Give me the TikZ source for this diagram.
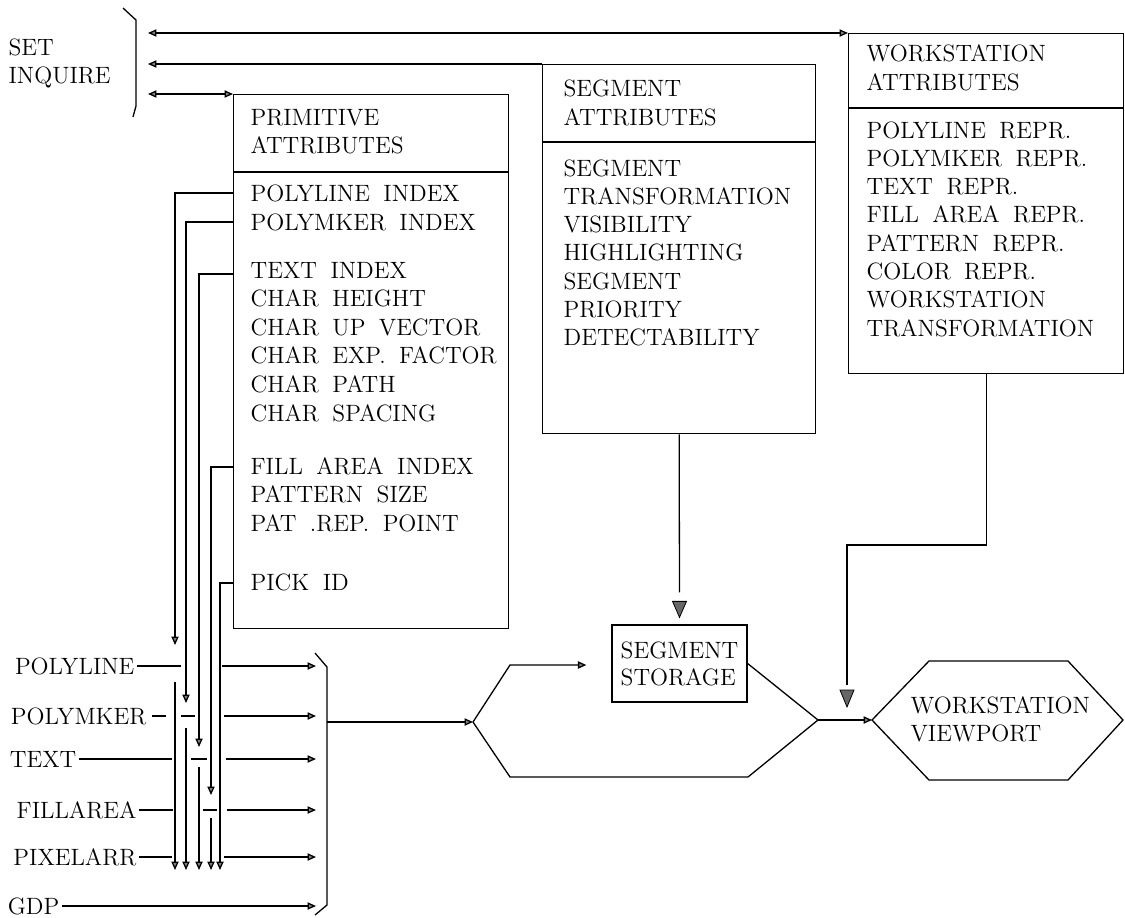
\documentclass[tikz,border=0pt]{standalone}
\usetikzlibrary{arrows.meta,calc}
\newcommand\diafont{\fontsize{11.8}{14.35}\selectfont\spaceskip=0.57em plus 0.1em\relax}
\begin{document}
\begin{tikzpicture}[x=0.5pt,y=-0.5pt,line width=0.65pt,
  >={Triangle[length=4.2pt,width=3.6pt,fill=black!50]},
  txt/.style={anchor=base west,inner sep=0pt,font=\diafont},
  lbl/.style={anchor=east,inner sep=1pt,font=\diafont},
  panel/.style={draw,anchor=north west,inner sep=0pt},
  gtri/.style={fill=black!60,draw=black,line width=0.4pt}]
\useasboundingbox (0,0) rectangle (1125,917);

% ---------- attribute panels ----------
\node[panel,minimum width=137.5pt,minimum height=267pt] (prim) at (233,94) {};
\node[panel,minimum width=136.5pt,minimum height=184.5pt] (seg) at (542,64) {};
\node[panel,minimum width=137.5pt,minimum height=170pt] (ws) at (848,33) {};
\draw ($(prim.north west)+(0,78)$) -- ($(prim.north east)+(0,78)$);
\draw ($(seg.north west)+(0,78)$) -- ($(seg.north east)+(0,78)$);
\draw ($(ws.north west)+(0,75)$) -- ($(ws.north east)+(0,75)$);

% primitive attributes
\node[txt] (ph1) at (250,125) {PRIMITIVE};
\node[txt] (ph2) at (250,153) {ATTRIBUTES};
\foreach \t [count=\i] in {POLYLINE INDEX,POLYMKER INDEX}
  \node[txt] (pa\i) at (250,{201+29*(\i-1)}) {\t};
\foreach \t [count=\i] in {TEXT INDEX,CHAR HEIGHT,CHAR UP VECTOR,CHAR EXP. FACTOR,CHAR PATH,CHAR SPACING}
  \node[txt] (pb\i) at (250,{278+28.6*(\i-1)}) {\t};
\foreach \t [count=\i] in {FILL AREA INDEX,PATTERN SIZE,PAT .REP. POINT}
  \node[txt] (pc\i) at (250,{474+28.6*(\i-1)}) {\t};
\node[txt] (pd1) at (250,590) {PICK ID};

% segment attributes
\node[txt] (sh1) at (563,96) {SEGMENT};
\node[txt] (sh2) at (563,125) {ATTRIBUTES};
\foreach \t [count=\i] in {SEGMENT,TRANSFORMATION,VISIBILITY,HIGHLIGHTING,SEGMENT,PRIORITY,DETECTABILITY}
  \node[txt] (sa\i) at (563,{176+28.3*(\i-1)}) {\t};

% workstation attributes
\node[txt] (wh1) at (866,61) {WORKSTATION};
\node[txt] (wh2) at (866,90) {ATTRIBUTES};
\foreach \t [count=\i] in {POLYLINE REPR.,POLYMKER REPR.,TEXT REPR.,FILL AREA REPR.,PATTERN REPR.,COLOR REPR.,WORKSTATION,TRANSFORMATION}
  \node[txt] (wa\i) at (866,{138+28.3*(\i-1)}) {\t};

% ---------- SET / INQUIRE ----------
\node[txt] (set) at (8,55) {SET};
\node[txt] (inq) at (8,83) {INQUIRE};
\draw (123,8) -- (136,20) -- (136,106) -- (133,117);
\coordinate (s1) at (148,33);
\coordinate (s2) at (148,64);
\coordinate (s3) at (148,94);
\draw[<->] (s1) -- (ws.north west);
\draw[->] (seg.north west) -- (s2);
\draw[<->] (s3) -- (prim.north west);

% ---------- attribute taps ----------
\coordinate (g1) at (175,645);
\coordinate (g2) at (186,703);
\coordinate (g3) at (199,747);
\coordinate (g4) at (211,795);
\coordinate (b5) at (220,870);
\draw[->] ($(prim.north west)+(0,99)$) -| (g1);
\draw[->] ($(prim.north west)+(0,128)$) -| (g2);
\draw[->] ($(prim.north west)+(0,180)$) -| (g3);
\draw[->] ($(prim.north west)+(0,373)$) -| (g4);
\draw[->] ($(prim.north west)+(0,489)$) -| (b5);

% continuations below the gates
\coordinate (c1) at (175,682); \coordinate (b1) at (175,870);
\coordinate (c2) at (186,728); \coordinate (b2) at (186,870);
\coordinate (c3) at (199,767); \coordinate (b3) at (199,870);
\coordinate (c4) at (211,818); \coordinate (b4) at (211,870);
\draw[->] (c1) -- (b1);
\draw[->] (c2) -- (b2);
\draw[->] (c3) -- (b3);
\draw[->] (c4) -- (b4);

% ---------- output primitives ----------
\node[lbl] (lpl) at (137,666) {POLYLINE};
\node[lbl] (lpm) at (149,716) {POLYMKER};
\node[lbl] (ltx) at (79,759) {TEXT};
\node[lbl] (lfa) at (139,810) {FILLAREA};
\node[lbl] (lpx) at (139,857) {PIXELARR};
\node[lbl] (lgd) at (62,906) {GDP};

\coordinate (h1a) at (181,666); \coordinate (h1b) at (222,666); \coordinate (e1) at (316,666);
\coordinate (h2a) at (166,716); \coordinate (h2g) at (181,716); \coordinate (h2h) at (195,716);
\coordinate (h2b) at (224,716); \coordinate (e2) at (316,716);
\coordinate (h3a) at (172,759); \coordinate (h3g) at (191,759); \coordinate (h3h) at (207,759);
\coordinate (h3b) at (226,759); \coordinate (e3) at (316,759);
\coordinate (h4a) at (173,810); \coordinate (h4g) at (203,810); \coordinate (h4h) at (217,810);
\coordinate (h4b) at (227,810); \coordinate (e4) at (316,810);
\coordinate (h5a) at (172,857); \coordinate (h5b) at (224,857); \coordinate (e5) at (316,857);
\coordinate (e6) at (316,906);

\draw (lpl.east) -- (h1a);
\draw[->] (h1b) -- (e1);
\draw ($(lpm.east)+(3,0)$) -- (h2a);
\draw (h2g) -- (h2h);
\draw[->] (h2b) -- (e2);
\draw (ltx.east) -- (h3a);
\draw (h3g) -- (h3h);
\draw[->] (h3b) -- (e3);
\draw (lfa.east) -- (h4a);
\draw (h4g) -- (h4h);
\draw[->] (h4b) -- (e4);
\draw (lpx.east) -- (h5a);
\draw[->] (h5b) -- (e5);
\draw[->] (lgd.east) -- (e6);

% collecting bracket
\draw (315,653) -- (327,667) -- (327,905) -- (315,915);
\coordinate (mux) at (327,722);
\coordinate (fork) at (473,722);
\draw[->] (mux) -- (fork);

% ---------- segment storage and viewport ----------
\node[draw,minimum width=67.5pt,minimum height=38.5pt,inner sep=0pt,align=left,
      font=\fontsize{11.8}{13.5}\selectfont] (store) at (679.5,663.5) {SEGMENT\\STORAGE};

\coordinate (up1) at (510,665);
\coordinate (lo1) at (510,777);
\coordinate (lo2) at (748,777);
\coordinate (merge) at (818,720);
\draw[->,shorten >=12.5pt] (fork) -- (up1) -- (up1 -| store.west);
\draw (fork) -- (lo1) -- (lo2) -- (merge);
\draw (store.east) -- (merge);

% workstation viewport
\coordinate (wvL) at (872,720);
\coordinate (wvTL) at (929,661);
\coordinate (wvTR) at (1068,661);
\coordinate (wvR) at (1123,720);
\coordinate (wvBR) at (1068,780);
\coordinate (wvBL) at (929,780);
\draw (wvL) -- (wvTL) -- (wvTR) -- (wvR) -- (wvBR) -- (wvBL) -- cycle;
\node[txt] (wv1) at (910,713) {WORKSTATION};
\node[txt] (wv2) at (910,741) {VIEWPORT};
\draw[->] (merge) -- (wvL);

% segment attributes feed the storage
\draw (seg.south) -- ($(store.north)+(0,-32)$);
\filldraw[gtri] ($(store.north)+(-7,-23)$) -- ($(store.north)+(7,-23)$) -- ($(store.north)+(0,-7)$) -- cycle;

% workstation attributes feed the viewport
\coordinate (wk2) at (847,545);
\coordinate (wk3) at (847,685);
\draw (ws.south) |- (wk2) -- (wk3);
\filldraw[gtri] ($(wk3)+(-7,5)$) -- ($(wk3)+(7,5)$) -- ($(wk3)+(0,22)$) -- cycle;
\end{tikzpicture}
\end{document}
